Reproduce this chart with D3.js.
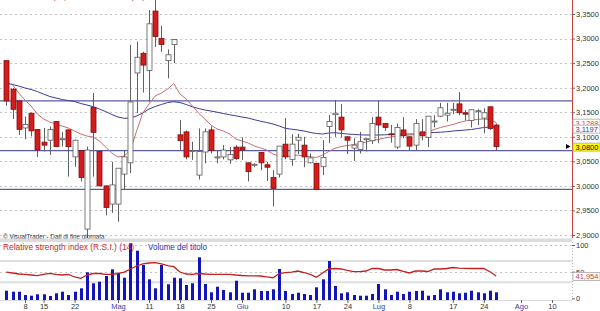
<!DOCTYPE html>
<html>
<head>
<meta charset="utf-8">
<script src="https://cdn.jsdelivr.net/npm/d3@7"></script>
<style>
  body { margin: 0; background: #fff; }
  svg { display: block; font-family: "Liberation Sans", Arial, sans-serif; }
</style>
</head>
<body>
<div id="chart"></div>
<script>
// trading calendar (Borsa Italiana, 2009)
const holidays = ["2009-04-10", "2009-04-13", "2009-05-01"];
const firstDay = "2009-04-02";
const lastDay = "2009-08-13";
const firstCandle = "2009-04-03";

// daily prices, 3 Apr -> 28 Jul
const openP = [3.255,3.197,3.173,3.118,3.148,3.115,3.089,3.093,3.131,3.094,3.114,3.059,3.072,2.912,3.160,3.070,3.000,2.963,2.963,3.024,
  3.047,3.230,3.270,3.235,3.356,3.300,3.255,3.288,3.104,3.110,3.070,3.022,3.069,3.114,3.058,3.059,3.053,3.079,3.079,3.047,
  3.042,3.068,3.043,3.017,3.024,3.085,3.054,3.093,3.083,3.047,3.046,3.039,3.121,3.145,3.140,3.100,3.077,3.074,3.095,3.092,
  3.140,3.127,3.106,3.079,3.114,3.100,3.083,3.110,3.099,3.130,3.142,3.144,3.155,3.167,3.149,3.133,3.151,3.138,3.161,3.124];
const highP = [3.256,3.199,3.174,3.141,3.149,3.116,3.118,3.121,3.132,3.110,3.115,3.094,3.073,3.080,3.189,3.071,3.001,3.049,3.036,3.073,
  3.287,3.294,3.273,3.358,3.420,3.326,3.278,3.299,3.134,3.113,3.090,3.117,3.117,3.121,3.073,3.083,3.079,3.083,3.099,3.048,
  3.046,3.069,3.049,3.032,3.081,3.138,3.105,3.106,3.100,3.066,3.047,3.093,3.144,3.175,3.167,3.101,3.097,3.110,3.096,3.140,
  3.173,3.128,3.124,3.127,3.140,3.101,3.136,3.136,3.142,3.144,3.169,3.169,3.169,3.191,3.155,3.156,3.156,3.158,3.162,3.127];
const lowP = [3.163,3.136,3.104,3.095,3.101,3.059,3.070,3.063,3.079,3.080,3.019,3.039,3.009,2.894,3.019,3.000,2.940,2.945,2.927,2.992,
  3.026,3.148,3.190,3.171,3.283,3.273,3.219,3.250,3.073,3.054,3.053,3.013,3.046,3.066,3.046,3.054,3.045,3.053,3.053,3.009,
  3.038,3.032,3.010,2.958,3.017,3.054,3.041,3.065,3.038,3.046,2.993,3.022,3.087,3.100,3.099,3.065,3.051,3.066,3.070,3.085,
  3.087,3.112,3.088,3.075,3.097,3.073,3.073,3.093,3.079,3.119,3.140,3.131,3.146,3.144,3.133,3.119,3.124,3.107,3.114,3.073];
const closeP = [3.173,3.156,3.115,3.125,3.112,3.073,3.083,3.115,3.080,3.096,3.080,3.093,3.017,3.073,3.109,3.000,2.956,3.002,3.036,3.059,
  3.171,3.262,3.246,3.330,3.304,3.288,3.267,3.298,3.092,3.059,3.072,3.070,3.110,3.072,3.059,3.073,3.064,3.056,3.073,3.029,
  3.044,3.047,3.038,2.995,3.081,3.059,3.085,3.099,3.059,3.057,2.993,3.058,3.131,3.148,3.114,3.093,3.083,3.090,3.096,3.127,
  3.124,3.119,3.104,3.119,3.102,3.081,3.127,3.102,3.142,3.132,3.159,3.148,3.156,3.149,3.146,3.155,3.153,3.149,3.117,3.080];

// moving averages (null = not drawn)
const maShort = [null,3.2054,3.1891,3.1748,3.1626,3.1463,3.1362,3.1300,3.1260,3.1219,3.1178,3.1117,3.1056,3.1015,3.0995,3.0914,3.0792,3.0669,3.0588,3.0608,
  3.0730,3.1117,3.1484,3.1667,3.1830,3.1891,3.1972,3.2084,3.1870,3.1769,3.1626,3.1484,3.1362,3.1239,3.1158,3.1117,3.1056,3.0954,3.0914,3.0873,
  3.0812,3.0771,3.0730,3.0649,3.0608,3.0594,3.0608,3.0629,3.0608,3.0594,3.0578,3.0629,3.0700,3.0765,3.0802,3.0822,3.0842,3.0863,3.0893,3.0924,
  3.0944,3.0975,3.0995,3.1015,3.1026,3.1036,3.1046,3.1066,3.1097,3.1148,3.1188,3.1219,3.1250,3.1290,3.1321,3.1341,3.1355,3.1362,3.1351,3.1288];
const maLong = [3.2094,3.2064,3.2033,3.1993,3.1962,3.1921,3.1870,3.1820,3.1789,3.1759,3.1738,3.1718,3.1677,3.1647,3.1612,3.1565,3.1514,3.1453,3.1402,3.1376,
  3.1382,3.1423,3.1484,3.1565,3.1616,3.1657,3.1697,3.1714,3.1697,3.1657,3.1610,3.1575,3.1545,3.1524,3.1500,3.1473,3.1449,3.1427,3.1402,3.1382,
  3.1347,3.1317,3.1290,3.1260,3.1219,3.1172,3.1154,3.1138,3.1117,3.1089,3.1066,3.1056,3.1077,3.1083,3.1068,3.1056,3.1048,3.1040,3.1036,3.1036,
  3.1036,3.1040,3.1048,3.1056,3.1056,3.1056,3.1056,3.1068,3.1081,3.1087,3.1093,3.1103,3.1117,3.1127,3.1138,3.1148,3.1168,3.1188,3.1199,3.1197];

// support / resistance lines
const levels = [3.173, 3.072, 2.993];

// RSI (14) and volume
const rsi = [49.3,47.5,45.6,45.0,43.7,42.4,44.7,46.9,44.7,43.7,45.0,40.0,37.5,43.7,46.5,46.5,45.0,45.0,46.5,49.3,
  55.0,60.6,64.4,66.2,66.8,64.4,61.5,59.3,49.3,45.6,45.0,46.5,45.6,45.0,45.0,45.0,45.0,43.7,42.8,42.2,
  42.2,41.8,40.0,38.6,46.5,48.0,49.3,51.2,48.4,44.7,39.4,47.5,55.0,55.9,55.0,52.2,49.9,49.9,51.2,55.9,
  55.9,53.1,53.1,54.0,50.3,47.5,51.2,51.2,50.3,55.0,55.0,55.9,57.8,56.8,56.3,55.9,56.3,55.9,49.9,41.954];
const volume = [93,83,83,50,43,57,57,40,67,83,50,83,117,277,167,183,240,307,273,223,
  567,493,350,207,117,350,157,223,217,150,167,427,160,77,133,100,77,193,73,73,
  107,90,90,107,310,90,60,73,60,50,127,207,390,140,67,77,50,43,43,60,
  160,107,50,83,60,83,90,93,43,50,107,77,83,67,73,93,77,67,93,77];

// x axis labels
const tickDates = ["2009-04-08","2009-04-15","2009-04-22","2009-05-04","2009-05-11","2009-05-18","2009-05-25","2009-06-01",
  "2009-06-10","2009-06-17","2009-06-24","2009-07-01","2009-07-08","2009-07-17","2009-07-24","2009-08-03","2009-08-10"];
const tickLabels = ["8","15","22","Mag","11","18","25","Giu","10","17","24","Lug","8","17","24","Ago","10"];
const monthLabels = ["Mag","Giu","Lug","Ago"];

const W = 600, H = 311;
const plotRight = 572;
const pricePanel = {top: 0, bottom: 238};
const lowerPanel = {top: 242, bottom: 300};

/**
 * Lists the trading days between two dates.
 */
function tradingDays(from, to) {
    const fmt = d3.utcFormat("%Y-%m-%d");
    return d3.utcDays(new Date(from + "T00:00:00Z"), d3.utcDay.offset(new Date(to + "T00:00:00Z"), 1))
        .filter(d => d.getUTCDay() !== 0 && d.getUTCDay() !== 6)
        .map(fmt)
        .filter(s => !holidays.includes(s));
}

function fmtComma(v, digits) {
    return d3.format("." + digits + "f")(v).replace(".", ",");
}

/**
 * Small value box on the right axis.
 */
function valueBox(svg, yPos, text, color, fill) {
    const g = svg.append("g").attr("transform", "translate(573," + yPos + ")");
    g.append("rect").attr("x", 0).attr("y", -3.5).attr("width", 27).attr("height", 8)
        .attr("fill", fill).attr("stroke", "#a8a8a8").attr("stroke-width", 0.8);
    g.append("text").attr("x", 2.5).attr("y", 3.2).attr("fill", color)
        .style("font-size", "7.5px").text(text);
}

function drawChart() {
    const days = tradingDays(firstDay, lastDay);
    const start = days.indexOf(firstCandle);
    const candleDays = days.slice(start, start + closeP.length);
    const candles = candleDays.map((d, i) => ({date: d, o: openP[i], h: highP[i], l: lowP[i], c: closeP[i],
        ma1: maShort[i], ma2: maLong[i], rsi: rsi[i], vol: volume[i]}));

    const x = d3.scalePoint().domain(days).range([0.2, 570.6]);
    const y = d3.scaleLinear().domain([2.90, 3.35]).range([235, 14]);
    const yRsi = d3.scaleLinear().domain([0, 100]).range([298.3, 245]);
    const yVol = d3.scaleLinear().domain([0, 600]).range([lowerPanel.bottom, 240]);

    const svg = d3.select("#chart").append("svg").attr("width", W).attr("height", H);

    svg.append("defs").append("clipPath").attr("id", "clipPrice")
        .append("rect").attr("x", 0).attr("y", pricePanel.top)
        .attr("width", plotRight).attr("height", pricePanel.bottom - pricePanel.top);

    // price grid
    const priceTicks = d3.range(0, 10).map(k => 2.90 + k * 0.05);
    svg.append("g").selectAll("line").data(priceTicks).enter().append("line")
        .attr("x1", 0).attr("x2", plotRight)
        .attr("y1", d => Math.round(y(d)) + 0.5).attr("y2", d => Math.round(y(d)) + 0.5)
        .attr("stroke", "#c4c4c4").attr("stroke-dasharray", "2,3");

    // legend of the moving averages, cut off by the top edge
    svg.append("text").attr("x", 67).attr("y", -1.5).attr("text-anchor", "end")
        .attr("fill", "#c06060").style("font-size", "8px").text("Media mobile (10)");
    svg.append("text").attr("x", 145).attr("y", -1.5).attr("text-anchor", "end")
        .attr("fill", "#4a4aa0").style("font-size", "8px").text("Media mobile (40)");

    const price = svg.append("g").attr("clip-path", "url(#clipPrice)");

    // horizontal levels
    price.selectAll(".level").data(levels).enter().append("line")
        .attr("x1", 0).attr("x2", plotRight)
        .attr("y1", d => y(d)).attr("y2", d => y(d))
        .attr("stroke", "#5c5ca6").attr("stroke-width", 1.3);

    // moving averages
    const line = key => d3.line().defined(d => d[key] != null)
        .x(d => x(d.date)).y(d => y(d[key]));
    price.append("path").datum(candles).attr("fill", "none")
        .attr("stroke", "#3c3c96").attr("stroke-width", 1).attr("d", line("ma2"));
    price.append("path").datum(candles).attr("fill", "none")
        .attr("stroke", "#c47070").attr("stroke-width", 1).attr("d", line("ma1"));

    // candles
    const cg = price.selectAll(".candle").data(candles).enter().append("g");
    cg.append("line")
        .attr("x1", d => Math.round(x(d.date)) + 0.5).attr("x2", d => Math.round(x(d.date)) + 0.5)
        .attr("y1", d => y(d.h)).attr("y2", d => y(d.l))
        .attr("stroke", "#606060").attr("stroke-width", 1);
    cg.append("rect")
        .attr("x", d => Math.round(x(d.date)) - 2)
        .attr("y", d => y(Math.max(d.o, d.c)))
        .attr("width", 5)
        .attr("height", d => Math.max(1, y(Math.min(d.o, d.c)) - y(Math.max(d.o, d.c))))
        .attr("fill", d => d.c < d.o ? "#d41c1c" : "#fff")
        .attr("stroke", d => d.c < d.o ? "#801010" : "#5a5a5a")
        .attr("stroke-width", 0.8);

    svg.append("text").attr("x", 3).attr("y", 238.5).attr("fill", "#333")
        .style("font-size", "6.3px").text("\u00a9 VisualTrader - Dati di fine giornata");

    // right price axis
    svg.append("line").attr("x1", plotRight + 0.5).attr("x2", plotRight + 0.5)
        .attr("y1", 0).attr("y2", pricePanel.bottom).attr("stroke", "#d04040");
    const yAxis = svg.append("g").attr("transform", "translate(" + plotRight + ",0)")
        .call(d3.axisRight(y).tickValues(priceTicks).tickSize(3).tickFormat(d => fmtComma(d, 4)));
    yAxis.select(".domain").remove();
    yAxis.selectAll("line").attr("stroke", "#666");
    yAxis.selectAll("text").attr("x", 4).attr("fill", "#333").style("font-size", "7.5px");

    valueBox(svg, y(maShort[maShort.length - 1]), fmtComma(maShort[maShort.length - 1], 4), "#c04848", "#fff");
    valueBox(svg, y(maLong[maLong.length - 1]) + 1.5, fmtComma(maLong[maLong.length - 1], 4), "#3c3c9c", "#fff");
    const lastClose = closeP[closeP.length - 1];
    valueBox(svg, y(lastClose), fmtComma(lastClose, 4), "#000", "#ffff00");
    svg.append("path").attr("fill", "#000")
        .attr("d", "M566," + (y(lastClose) - 2.5) + "L570.5," + y(lastClose) + "L566," + (y(lastClose) + 2.5) + "Z");

    // panel separator
    svg.append("rect").attr("x", 0).attr("y", 238.5).attr("width", plotRight).attr("height", 3.5).attr("fill", "#dcdcdc");

    // lower panel grid
    [100, 50].forEach(v => svg.append("line").attr("x1", 0).attr("x2", plotRight)
        .attr("y1", Math.round(yRsi(v)) + 0.5).attr("y2", Math.round(yRsi(v)) + 0.5)
        .attr("stroke", "#c4c4c4").attr("stroke-dasharray", "2,3"));
    [70, 30].forEach(v => svg.append("line").attr("x1", 0).attr("x2", plotRight)
        .attr("y1", yRsi(v)).attr("y2", yRsi(v))
        .attr("stroke", "#dedede").attr("stroke-width", 2));
    svg.append("line").attr("x1", 0).attr("x2", plotRight).attr("y1", 300.5).attr("y2", 300.5)
        .attr("stroke", "#dcdcdc");

    // volume bars
    svg.append("g").selectAll("rect").data(candles).enter().append("rect")
        .attr("x", d => Math.round(x(d.date)) - 1)
        .attr("y", d => yVol(d.vol))
        .attr("width", 3)
        .attr("height", d => lowerPanel.bottom - yVol(d.vol))
        .attr("fill", "#1414bc");

    // RSI
    svg.append("path").datum(candles).attr("fill", "none")
        .attr("stroke", "#c42020").attr("stroke-width", 1.3)
        .attr("d", d3.line().x(d => x(d.date)).y(d => yRsi(d.rsi)));

    svg.append("text").attr("x", 3).attr("y", 249.5).attr("fill", "#c03030")
        .attr("textLength", 131).attr("lengthAdjust", "spacingAndGlyphs")
        .style("font-size", "8.3px").text("Relative strength index (R.S.I.) (14)");
    svg.append("text").attr("x", 148).attr("y", 249.5).attr("fill", "#3030b0")
        .attr("textLength", 59).attr("lengthAdjust", "spacingAndGlyphs")
        .style("font-size", "8.3px").text("Volume del titolo");

    // lower right axis
    svg.append("line").attr("x1", plotRight + 0.5).attr("x2", plotRight + 0.5)
        .attr("y1", lowerPanel.top).attr("y2", lowerPanel.bottom)
        .attr("stroke", "#bbb").attr("stroke-dasharray", "1,2");
    const rAxis = svg.append("g").attr("transform", "translate(" + plotRight + ",0)")
        .call(d3.axisRight(yRsi).tickValues([0, 50, 100]).tickSize(3));
    rAxis.select(".domain").remove();
    rAxis.selectAll("line").attr("stroke", "#666");
    rAxis.selectAll("text").attr("x", 4).attr("fill", "#333").style("font-size", "7.5px");
    valueBox(svg, yRsi(rsi[rsi.length - 1]), fmtComma(rsi[rsi.length - 1], 3), "#c04040", "#fff");

    // x axis
    const xAxis = svg.append("g").attr("transform", "translate(0," + lowerPanel.bottom + ")")
        .call(d3.axisBottom(x).tickValues(tickDates).tickSize(3).tickPadding(1)
            .tickFormat((d, i) => tickLabels[i]));
    xAxis.select(".domain").remove();
    xAxis.selectAll("line").attr("stroke", "#666");
    xAxis.selectAll("text").style("font-size", "7.5px")
        .attr("fill", (d, i) => monthLabels.includes(tickLabels[i]) ? "#3c3ca8" : "#333");
}

drawChart();
</script>
</body>
</html>
